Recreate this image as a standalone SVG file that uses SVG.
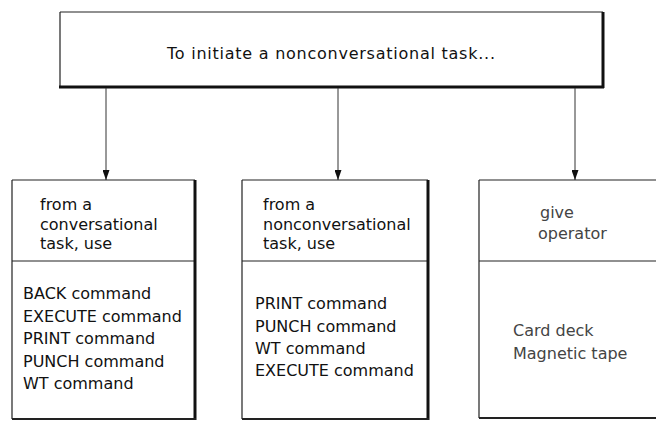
<svg xmlns="http://www.w3.org/2000/svg" width="656" height="422" viewBox="0 0 656 422">
<defs>
<marker id="ah" markerWidth="10" markerHeight="7" refX="10" refY="3.5" orient="auto" markerUnits="userSpaceOnUse" viewBox="0 0 10 7">
<path d="M0,0 L10,3.5 L0,7 Z" fill="#111"/>
</marker>
</defs>
<style>
.t{font-family:"DejaVu Sans","Liberation Sans",sans-serif;font-size:16px;fill:#111}
.f{fill:#444}
.thin{stroke:#222;stroke-width:1.2;fill:none}
.thick{stroke:#111;stroke-width:3;fill:none}
.mid{stroke:#222;stroke-width:1.8;fill:none}
.con{stroke:#333;stroke-width:1;fill:none}
</style>
<rect width="656" height="422" fill="#fff"/>
<g id="top">
<path class="thin" d="M60,12 H603 M60,12 V87"/>
<path class="thick" d="M603,12 V88 M59,87 H604"/>
<text class="t" x="331" y="59" text-anchor="middle" textLength="328">To initiate a nonconversational task...</text>
</g>
<g id="connectors">
<line class="con" x1="106" y1="88" x2="106" y2="180" marker-end="url(#ah)"/>
<line class="con" x1="338" y1="88" x2="338" y2="180" marker-end="url(#ah)"/>
<line class="con" x1="575" y1="88" x2="575" y2="180" marker-end="url(#ah)"/>
</g>
<g id="box1">
<path class="thin" d="M12,180 H195 M12,180 V419 M12,261 H195"/>
<path class="thick" d="M195,180 V420"/>
<path class="mid" d="M12,419 H196"/>
<text class="t" x="40" y="210">from a</text>
<text class="t" x="40" y="230">conversational</text>
<text class="t" x="40" y="249">task, use</text>
<text class="t" x="23" y="299">BACK command</text>
<text class="t" x="23" y="322">EXECUTE command</text>
<text class="t" x="23" y="344">PRINT command</text>
<text class="t" x="23" y="367">PUNCH command</text>
<text class="t" x="23" y="389">WT command</text>
</g>
<g id="box2">
<path class="thin" d="M242,180 H428 M242,180 V419 M242,261 H428"/>
<path class="thick" d="M428,180 V420"/>
<path class="mid" d="M242,419 H429"/>
<text class="t" x="263" y="210">from a</text>
<text class="t" x="263" y="230">nonconversational</text>
<text class="t" x="263" y="249">task, use</text>
<text class="t" x="255" y="309">PRINT command</text>
<text class="t" x="255" y="332">PUNCH command</text>
<text class="t" x="255" y="354">WT command</text>
<text class="t" x="255" y="376">EXECUTE command</text>
</g>
<g id="box3">
<path class="thin" d="M479,180 H656 M479,180 V418 M479,261 H656"/>
<path class="mid" d="M479,418 H656"/>
<text class="t f" x="540" y="218">give</text>
<text class="t f" x="538" y="239">operator</text>
<text class="t f" x="513" y="336">Card deck</text>
<text class="t f" x="513" y="359">Magnetic tape</text>
</g>
</svg>
